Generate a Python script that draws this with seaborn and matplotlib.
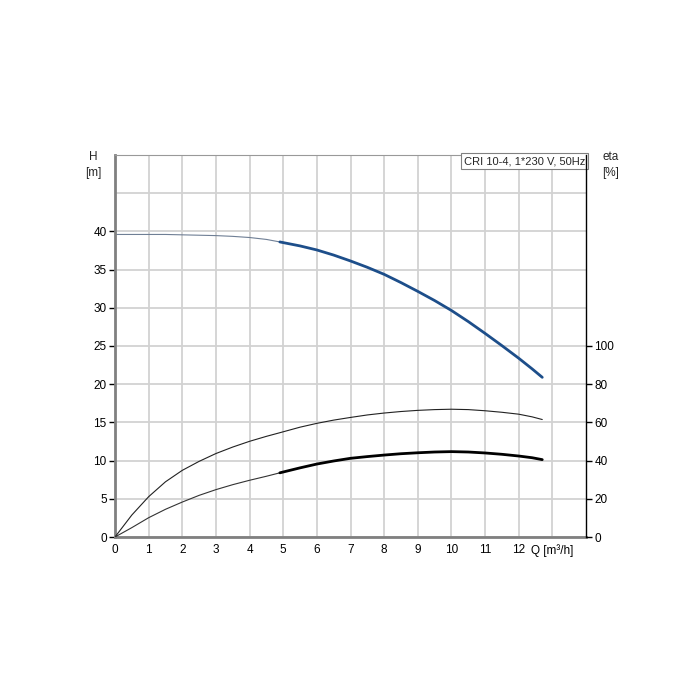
import numpy as np
import pandas as pd
import seaborn as sns
from matplotlib import pyplot as plt

# values
q = [0, 0.5, 1, 1.5, 2, 2.5, 3, 3.5, 4, 4.5, 4.9, 5.5, 6, 6.5, 7, 7.5, 8, 8.5, 9,
     9.5, 10, 10.5, 11, 11.5, 12, 12.4, 12.7]
head = [39.6, 39.6, 39.6, 39.6, 39.55, 39.5, 39.45, 39.35, 39.2, 38.95, 38.62, 38.1,
        37.57, 36.9, 36.13, 35.3, 34.38, 33.3, 32.15, 30.95, 29.65, 28.2, 26.65, 25.05,
        23.4, 22.0, 20.9]
eta_pump = [0, 11.5, 21.1, 28.9, 34.9, 39.6, 43.7, 47.1, 50.1, 52.7, 54.6, 57.5, 59.5,
            61.2, 62.6, 63.9, 64.9, 65.7, 66.3, 66.7, 66.9, 66.7, 66.1, 65.3, 64.3,
            62.9, 61.5]
eta_total = [0, 4.9, 10.1, 14.5, 18.3, 21.8, 24.8, 27.4, 29.7, 31.8, 33.6, 36.2, 38.2,
             39.8, 41.2, 42.1, 42.9, 43.6, 44.1, 44.5, 44.7, 44.5, 44.0, 43.3, 42.4,
             41.5, 40.5]
duty_start = 10  # index of Q=4.9, where the curves become bold

x_ticks = list(range(0, 14))
x_labels = [str(i) for i in range(0, 13)] + ['Q [m³/h]']
h_ticks = list(range(0, 45, 5))
h_grid_extra = [45, 50]
eta_ticks = list(range(0, 120, 20))
title = 'CRI 10-4, 1*230 V, 50Hz'

sns.set_style('white')
plt.rcParams['font.family'] = ['Liberation Sans', 'DejaVu Sans']

df = pd.DataFrame({'q': q, 'head': head, 'eta_pump': eta_pump, 'eta_total': eta_total})
thin = df.iloc[:duty_start + 1]
bold = df.iloc[duty_start:]

fig = plt.figure(figsize=(7, 7), dpi=100)
ax = fig.add_axes([115 / 700, 163 / 700, 471 / 700, 382 / 700])
ax2 = ax.twinx()

sns.lineplot(data=thin, x='q', y='head', ax=ax, color='#6f7f95', lw=0.8)
sns.lineplot(data=bold, x='q', y='head', ax=ax, color='#1d4e8a', lw=2.0)

sns.lineplot(data=df, x='q', y='eta_pump', ax=ax2, color='#222222', lw=0.8)
sns.lineplot(data=thin, x='q', y='eta_total', ax=ax2, color='#333333', lw=0.8)
sns.lineplot(data=bold, x='q', y='eta_total', ax=ax2, color='black', lw=2.0)

ax.set_xlim(0, 14)
ax.set_ylim(0, 50)
ax2.set_ylim(0, 200)
ax.set_xticks(x_ticks)
ax.set_xticklabels(x_labels)
ax.set_yticks(h_ticks)
ax.set_yticklabels([str(t) for t in h_ticks])
ax.set_yticks(h_grid_extra, minor=True)
ax2.set_yticks(eta_ticks)
ax2.set_yticklabels([str(t) for t in eta_ticks])

ax.grid(True, which='both', color='#d2d2d2', lw=1.3)
ax.set_axisbelow(True)
ax.set_xlabel('')
ax.set_ylabel('')
ax2.set_ylabel('')

ax.tick_params(length=4, width=1, labelsize=8.5, pad=2, colors='black')
ax2.tick_params(length=4, width=1, labelsize=8.5, pad=2, colors='black')
ax.spines['left'].set_color('#808080')
ax.spines['left'].set_linewidth(2)
ax.spines['bottom'].set_color('#808080')
ax.spines['bottom'].set_linewidth(2)
ax.spines['top'].set_color('#999999')
ax.spines['top'].set_linewidth(0.8)
ax.spines['right'].set_visible(False)
for side in ('left', 'bottom', 'top'):
    ax2.spines[side].set_visible(False)
ax2.spines['right'].set_color('black')
ax2.spines['right'].set_linewidth(1)
ax.tick_params(axis='y', which='minor', length=0)
ax.tick_params(axis='x', length=3, color='#808080')

fig.text(93 / 700, 1 - 165 / 700, 'H\n[m]', ha='center', va='center', fontsize=8.5, linespacing=1.45)
fig.text(611 / 700, 1 - 165 / 700, 'eta\n[%]', ha='center', va='center', fontsize=8.5, linespacing=1.45)

ax.text(0.998, 0.997, title, transform=ax.transAxes, ha='right', va='top', fontsize=8,
        bbox=dict(boxstyle='square,pad=0.25', fc='white', ec='#808080', lw=0.8), zorder=5)

fig.savefig('out.png', dpi=100)
